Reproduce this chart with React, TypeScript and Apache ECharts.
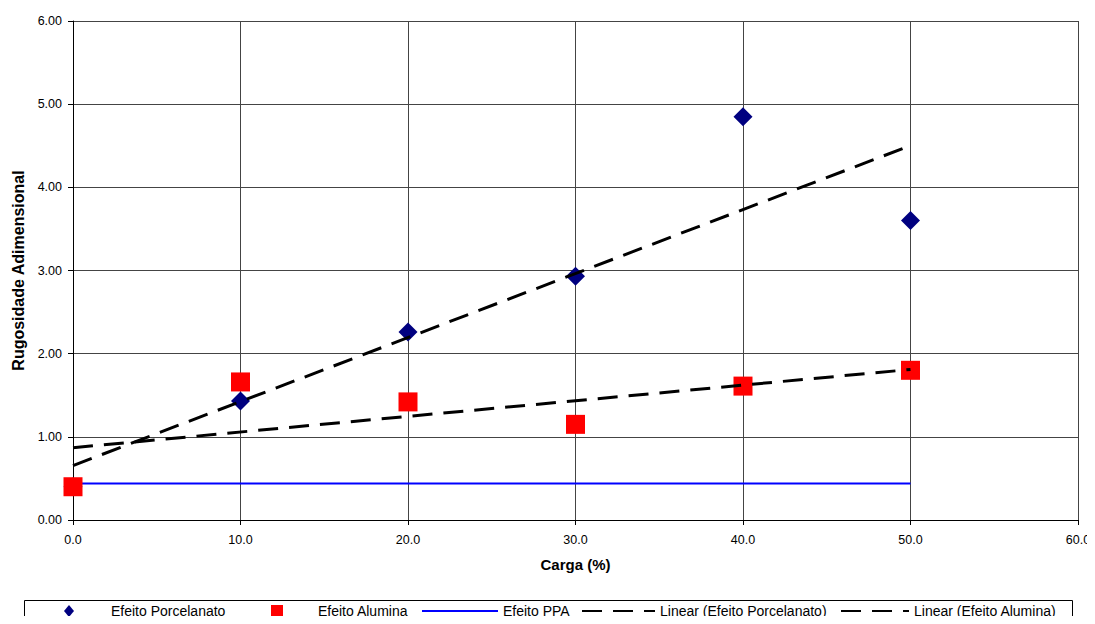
import React, { useEffect, useRef } from "react";
import * as echarts from "echarts";

const cargaX = [0, 10, 20, 30, 40, 50];
const porcelanatoY = [0.4, 1.43, 2.26, 2.93, 4.85, 3.6];
const aluminaY = [0.4, 1.66, 1.42, 1.15, 1.61, 1.8];
const ppaY = [0.44, 0.44];
const ppaX = [0, 50];

const seriesNames = [
  "Efeito Porcelanato",
  "Efeito Alumina",
  "Efeito PPA",
  "Linear (Efeito Porcelanato)",
  "Linear (Efeito Alumina)",
];

function linearFit(xs: number[], ys: number[]) {
  const n = xs.length;
  const mx = xs.reduce((a, b) => a + b, 0) / n;
  const my = ys.reduce((a, b) => a + b, 0) / n;
  let sxy = 0;
  let sxx = 0;
  for (let i = 0; i < n; i++) {
    sxy += (xs[i] - mx) * (ys[i] - my);
    sxx += (xs[i] - mx) * (xs[i] - mx);
  }
  const slope = sxy / sxx;
  const intercept = my - slope * mx;
  const x0 = Math.min(...xs);
  const x1 = Math.max(...xs);
  return [
    [x0, intercept + slope * x0],
    [x1, intercept + slope * x1],
  ];
}

const FONT = "Liberation Sans, Arial, sans-serif";

export default function App() {
  const ref = useRef<HTMLDivElement>(null);
  useEffect(() => {
    if (!ref.current) return;
    const chart = echarts.init(ref.current, undefined, { renderer: "svg" });
    const textBase = { fontFamily: FONT, fontSize: 14, color: "#000" };
    const legendBase = {
      top: 604,
      padding: 0,
      itemHeight: 12,
      selectedMode: false,
      textStyle: textBase,
    };
    const lineLegend = { ...legendBase, itemStyle: { opacity: 0 } };
    chart.setOption({
      animation: false,
      backgroundColor: "#fff",
      grid: { left: 73, right: 17, top: 21, bottom: 104 },
      xAxis: {
        type: "value",
        min: 0,
        max: 60,
        interval: 10,
        name: "Carga (%)",
        nameLocation: "middle",
        nameGap: 37,
        nameTextStyle: { fontFamily: FONT, fontSize: 15, fontWeight: "bold", color: "#000" },
        axisLine: { show: true, lineStyle: { color: "#000", width: 1 } },
        axisTick: { show: true, length: 5, lineStyle: { color: "#000" } },
        axisLabel: {
          margin: 13,
          fontFamily: FONT,
          fontSize: 12.5,
          color: "#000",
          formatter: (v: number) => v.toFixed(1),
        },
        splitLine: { show: true, lineStyle: { color: "#444", width: 1 } },
      },
      yAxis: {
        type: "value",
        min: 0,
        max: 6,
        interval: 1,
        name: "Rugosidade Adimensional",
        nameLocation: "middle",
        nameGap: 46,
        nameTextStyle: { fontFamily: FONT, fontSize: 16, fontWeight: "bold", color: "#000" },
        axisLine: { show: true, lineStyle: { color: "#000", width: 1 } },
        axisTick: { show: true, length: 5, lineStyle: { color: "#000" } },
        axisLabel: {
          margin: 11,
          fontFamily: FONT,
          fontSize: 12.5,
          color: "#000",
          formatter: (v: number) => v.toFixed(2),
        },
        splitLine: { show: true, lineStyle: { color: "#444", width: 1 } },
      },
      legend: [
        {
          ...legendBase,
          left: 64,
          itemWidth: 10,
          textStyle: { ...textBase, padding: [0, 0, 0, 32] },
          data: [{ name: seriesNames[0], icon: "diamond" }],
        },
        {
          ...legendBase,
          left: 271,
          itemWidth: 12,
          textStyle: { ...textBase, padding: [0, 0, 0, 30] },
          data: [{ name: seriesNames[1], icon: "rect" }],
        },
        { ...lineLegend, left: 421, itemWidth: 76, data: [seriesNames[2]] },
        { ...lineLegend, left: 581, itemWidth: 73, data: [seriesNames[3]] },
        { ...lineLegend, left: 840, itemWidth: 68, data: [seriesNames[4]] },
      ],
      graphic: [
        {
          type: "rect",
          shape: { x: 24.5, y: 600.5, width: 1048, height: 40 },
          style: { fill: "none", stroke: "#000", lineWidth: 1 },
          silent: true,
        },
      ],
      series: [
        {
          name: seriesNames[0],
          type: "scatter",
          symbol: "diamond",
          symbolSize: 19,
          itemStyle: { color: "#000080", opacity: 1 },
          z: 3,
          data: cargaX.map((x, i) => [x, porcelanatoY[i]]),
        },
        {
          name: seriesNames[1],
          type: "scatter",
          symbol: "rect",
          symbolSize: 19,
          itemStyle: { color: "#FF0000", opacity: 1 },
          z: 3,
          data: cargaX.map((x, i) => [x, aluminaY[i]]),
        },
        {
          name: seriesNames[2],
          type: "line",
          symbol: "none",
          lineStyle: { color: "#0000FF", width: 2 },
          itemStyle: { color: "#0000FF" },
          z: 2,
          data: ppaX.map((x, i) => [x, ppaY[i]]),
        },
        {
          name: seriesNames[3],
          type: "line",
          symbol: "none",
          lineStyle: { color: "#000", width: 3, type: [20, 11] },
          itemStyle: { color: "#000" },
          z: 4,
          data: linearFit(cargaX, porcelanatoY),
        },
        {
          name: seriesNames[4],
          type: "line",
          symbol: "none",
          lineStyle: { color: "#000", width: 3, type: [20, 11] },
          itemStyle: { color: "#000" },
          z: 4,
          data: linearFit(cargaX, aluminaY),
        },
      ],
    });
    return () => chart.dispose();
  }, []);
  return <div ref={ref} style={{ width: 1095, height: 624, margin: -8 }} />;
}
